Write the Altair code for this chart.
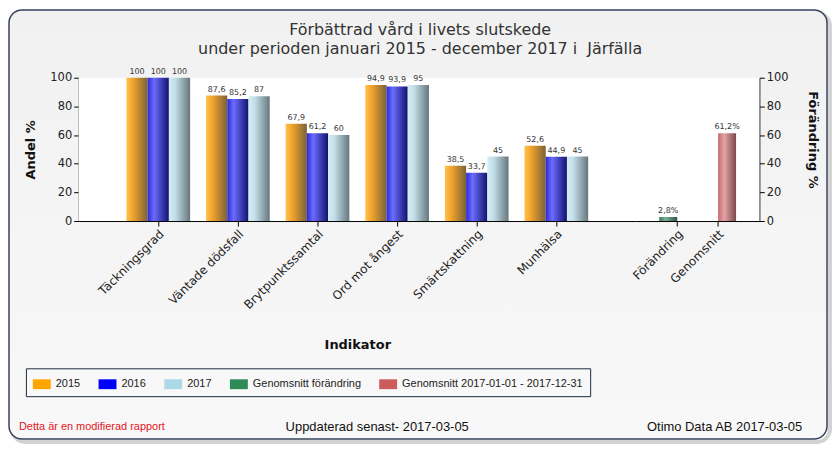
import altair as alt
import pandas as pd

# ---------------- data ----------------
title_lines = ["Förbättrad vård i livets slutskede",
               "under perioden januari 2015 - december 2017 i \u00a0Järfälla"]
indicators = ["Täckningsgrad", "Väntade dödsfall", "Brytpunktssamtal",
              "Ord mot ångest", "Smärtskattning", "Munhälsa"]
years = ["2015", "2016", "2017"]
values_2015 = [100, 87.6, 67.9, 94.9, 38.5, 52.6]
values_2016 = [100, 85.2, 61.2, 93.9, 33.7, 44.9]
values_2017 = [100, 87, 60, 95, 45, 45]

summary_categories = ["Förändring", "Genomsnitt"]
summary_series = ["Genomsnitt förändring", "Genomsnitt 2017-01-01 - 2017-12-31"]
summary_values = [2.8, 61.2]

series_colors = ["#FFA500", "#0000FF", "#ADD8E6", "#2E8B57", "#CD5C5C"]
y_ticks = [0, 20, 40, 60, 80, 100]

footer_left = "Detta är en modifierad rapport"
footer_mid = "Uppdaterad senast- 2017-03-05"
footer_right = "Otimo Data AB 2017-03-05"


def fmt(v):
    return f"{v:g}".replace(".", ",")


rows = []
for yr, vals in zip(years, [values_2015, values_2016, values_2017]):
    for ind, v in zip(indicators, vals):
        rows.append({"Indikator": ind, "year": yr, "value": v, "label": fmt(v)})
main_df = pd.DataFrame(rows)

summary_df = pd.DataFrame({
    "Indikator": summary_categories,
    "series": summary_series,
    "value": summary_values,
    "label": [fmt(v) + "%" for v in summary_values],
})
legend_df = pd.DataFrame({"series": years + summary_series})


# ---------------- styles ----------------
def grad(stops, vertical=False):
    return {"gradient": "linear", "x1": 0, "y1": 0,
            "x2": 0 if vertical else 1, "y2": 1 if vertical else 0,
            "stops": [{"offset": o, "color": c} for o, c in stops]}


gradients = {
    "2015": grad([(0, "#FFC24C"), (0.3, "#F2A42C"), (1, "#7A6238")]),
    "2016": grad([(0, "#2A2AD6"), (0.3, "#6C6CFF"), (1, "#12126E")]),
    "2017": grad([(0, "#D6ECF4"), (0.3, "#C2DEE8"), (1, "#66767E")]),
    summary_series[0]: grad([(0, "#3E7A5E"), (0.35, "#7DAE94"), (1, "#2C5642")]),
    summary_series[1]: grad([(0, "#C86A6E"), (0.35, "#E2A2A6"), (1, "#7A4A4A")]),
}
frame_fill = grad([(0, "#f1f1f1"), (1, "#f8f8f8")], vertical=True)

FONT = "DejaVu Sans"
W_MAIN, W_SUM, H = 560, 124, 144
W_FRAME_CELL = 1  # tiny first cell that only carries the decorative frame

# decorative outer frame, relative to the frame cell's top-left corner
FR_L, FR_R, FR_T, FR_B = -69, 753, -68, 363


def deco_rect(x, x2, y, y2, **mark):
    return alt.Chart(pd.DataFrame({"bg": [0]})).mark_rect(**mark).encode(
        x=alt.value(x), x2=alt.value(x2), y=alt.value(y), y2=alt.value(y2))


frame_cell = alt.layer(
    deco_rect(FR_L + 3, FR_R + 3, FR_T + 3, FR_B + 3, fillOpacity=0, stroke="#b5b5b5",
              strokeWidth=4, strokeOpacity=0.6, cornerRadius=13),
    deco_rect(FR_L, FR_R, FR_T, FR_B, fill=frame_fill, stroke="#36425a",
              strokeWidth=1.5, cornerRadius=13),
).properties(width=W_FRAME_CELL, height=H)


def plot_bg(w):
    return deco_rect(0, w, 0, H, color="white")


# ---------------- left (main) panel ----------------
x_main = alt.X("Indikator:N", sort=indicators,
               scale=alt.Scale(paddingInner=0.2, paddingOuter=0.6),
               axis=alt.Axis(title="Indikator", labelAngle=-45, labelFontSize=12,
                             titleFontSize=13, titleFontWeight="bold",
                             titleY=124, titleX=W_MAIN / 2, titleBaseline="middle"))
xoff_main = alt.XOffset("year:N", scale=alt.Scale(domain=years, paddingInner=0, paddingOuter=0))
y_left = alt.Y("value:Q", scale=alt.Scale(domain=[0, 100]),
               axis=alt.Axis(title="Andel %", orient="left", values=y_ticks,
                             titleFontSize=13, titleFontWeight="bold",
                             titleX=-48, titleY=H / 2, titleBaseline="middle"))

bars = [
    alt.Chart(main_df[main_df["year"] == yr]).mark_bar(color=gradients[yr]).encode(
        x=x_main, xOffset=xoff_main, y=y_left)
    for yr in years
]
bar_labels = alt.Chart(main_df).mark_text(
    baseline="bottom", dy=-2, fontSize=8, font=FONT, color="#333").encode(
    x=x_main, xOffset=xoff_main, y=y_left, text="label:N")

legend_layer = alt.Chart(legend_df).mark_square(opacity=0).encode(
    color=alt.Color("series:N",
                    scale=alt.Scale(domain=years + summary_series, range=series_colors),
                    legend=alt.Legend(title=None, orient="none", legendX=-52, legendY=292,
                                      direction="horizontal", columns=5,
                                      symbolType="M-1,-0.55L1,-0.55L1,0.55L-1,0.55Z",
                                      symbolSize=324, symbolOpacity=1, symbolStrokeWidth=0,
                                      labelFont="Liberation Sans", labelFontSize=11,
                                      labelColor="#222", columnPadding=18, labelOffset=5,
                                      labelLimit=0, padding=7,
                                      strokeColor="#1c2a40", fillColor="#f8f8f8")))

footer_layers = [
    alt.Chart(pd.DataFrame({"t": [footer_left]})).mark_text(
        align="left", baseline="middle", font="Liberation Sans",
        fontSize=11, color="#e3141c").encode(text="t:N", x=alt.value(-60), y=alt.value(351)),
    alt.Chart(pd.DataFrame({"t": [footer_mid]})).mark_text(
        align="center", baseline="middle", font="Liberation Sans",
        fontSize=13, color="#111").encode(text="t:N", x=alt.value(300), y=alt.value(351)),
    alt.Chart(pd.DataFrame({"t": [footer_right]})).mark_text(
        align="right", baseline="middle", font="Liberation Sans",
        fontSize=13, color="#111").encode(text="t:N", x=alt.value(727), y=alt.value(351)),
]

left = alt.layer(plot_bg(W_MAIN), *bars, bar_labels, legend_layer,
                 *footer_layers).properties(width=W_MAIN, height=H)

# ---------------- right (summary) panel ----------------
x_sum = alt.X("Indikator:N", sort=summary_categories,
              scale=alt.Scale(paddingInner=0.12, paddingOuter=0.57),
              axis=alt.Axis(title=None, labelAngle=-45, labelFontSize=12))
xoff_sum = alt.XOffset("series:N", scale=alt.Scale(domain=summary_series,
                                                  paddingInner=0, paddingOuter=0))
y_right = alt.Y("value:Q", scale=alt.Scale(domain=[0, 100]),
                axis=alt.Axis(title="Förändring %", orient="right", values=y_ticks,
                              titleFontSize=13, titleFontWeight="bold", titleAngle=90,
                              titleX=53, titleY=62, titleBaseline="middle"))

sum_bars = [
    alt.Chart(summary_df[summary_df["series"] == s]).mark_bar(color=gradients[s]).encode(
        x=x_sum, xOffset=xoff_sum, y=y_right)
    for s in summary_series
]
sum_labels = alt.Chart(summary_df).mark_text(
    baseline="bottom", dy=-2, fontSize=8, font=FONT, color="#333").encode(
    x=x_sum, xOffset=xoff_sum, y=y_right, text="label:N")

right = alt.layer(plot_bg(W_SUM), *sum_bars, sum_labels).properties(width=W_SUM, height=H)

# ---------------- assemble ----------------
chart = alt.HConcatChart(
    hconcat=[frame_cell, left, right], spacing=0, bounds="flush",
    title=alt.TitleParams(text=title_lines, font=FONT, fontSize=16, fontWeight="normal",
                          color="#333", anchor="middle", frame="bounds", offset=-48,
                          lineHeight=19),
    background="white",
    padding={"left": 0, "top": 0, "right": 0, "bottom": 0},
).resolve_scale(x="independent", y="independent", xOffset="independent").configure_view(
    strokeWidth=0
).configure_axis(
    grid=False, zindex=1, labelFont=FONT, titleFont=FONT, labelFontSize=11.5,
    labelColor="#222", titleColor="#111", domainColor="#000", tickColor="#000", tickSize=5
)

chart.save("out.html", embed_options={"renderer": "svg", "actions": False})
